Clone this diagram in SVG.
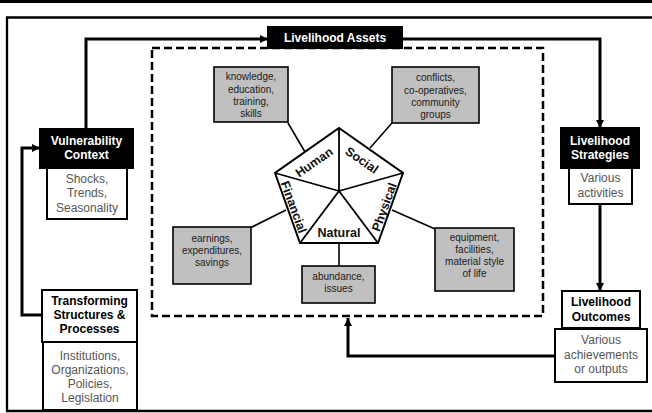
<svg xmlns="http://www.w3.org/2000/svg" width="652" height="413" viewBox="0 0 652 413">
<defs>
<marker id="ah" viewBox="0 0 10 10" refX="10" refY="5" markerUnits="userSpaceOnUse" markerWidth="8" markerHeight="8" orient="auto">
<path d="M0,0 L10,5 L0,10 z" fill="#000"/>
</marker>
<style>
text{font-family:"Liberation Sans",Arial,sans-serif;text-anchor:middle}
.hb{font-size:12px;font-weight:bold;fill:#fff}
.hd{font-size:12px;font-weight:bold;fill:#000}
.sub{font-size:12px;fill:#555}
.g{font-size:10px;fill:#1a1a1a}
.pl{font-size:12.5px;font-weight:bold;fill:#111}
.blk{fill:#000;stroke:#000;stroke-width:2}
.wht{fill:#fff;stroke:#000;stroke-width:2}
.gry{fill:#c0c0c0;stroke:#000;stroke-width:1.6}
.con{fill:none;stroke:#000;stroke-width:3}
.thin{fill:none;stroke:#000;stroke-width:1.6}
</style>
</defs>
<rect x="0" y="0" width="652" height="3" fill="#000"/>
<path d="M652,17.5 H7 V411 H652" fill="none" stroke="#000" stroke-width="2.3"/>
<rect id="assets-frame" x="152" y="48" width="391" height="268" fill="none" stroke="#000" stroke-width="2.5" stroke-dasharray="8 4"/>
<g id="connectors">
<path class="con" d="M86,129 V39 H268" marker-end="url(#ah)"/>
<path class="con" d="M402,39 H600 V128" marker-end="url(#ah)"/>
<path class="con" d="M600,204 V291" marker-end="url(#ah)"/>
<path class="con" d="M555,356 H348 V318" marker-end="url(#ah)"/>
<path class="con" d="M42,315 H22 V148 H40" marker-end="url(#ah)"/>
<line class="thin" x1="288" y1="123" x2="305" y2="152"/>
<line class="thin" x1="392" y1="123" x2="370" y2="148"/>
<line class="thin" x1="286" y1="210" x2="250" y2="228"/>
<line class="thin" x1="392" y1="210" x2="435" y2="229"/>
<line class="thin" x1="339" y1="243" x2="339" y2="266"/>
</g>
<g id="livelihood-assets">
<rect class="blk" x="268" y="27" width="134" height="21"/>
<text class="hb" x="335" y="42">Livelihood Assets</text>
</g>
<g id="pentagon">
<polygon points="339,128 403,173 378,243 300,243 275,173" fill="#fff" stroke="#000" stroke-width="2"/>
<path d="M339,191 L339,128 M339,191 L403,173 M339,191 L378,243 M339,191 L300,243 M339,191 L275,173" stroke="#000" stroke-width="1.8" fill="none"/>
<text class="pl" transform="translate(314,162) rotate(-35)" y="4.5">Human</text>
<text class="pl" transform="translate(362,160) rotate(35)" y="4.5">Social</text>
<text class="pl" transform="translate(294,207) rotate(70)" y="4.5">Financial</text>
<text class="pl" transform="translate(384,207) rotate(-70)" y="4.5">Physical</text>
<text class="pl" x="339" y="237">Natural</text>
</g>
<g id="human-box">
<rect class="gry" x="214" y="67" width="74" height="55"/>
<text class="g" x="251" y="80">knowledge,</text>
<text class="g" x="251" y="92.5">education,</text>
<text class="g" x="251" y="105">training,</text>
<text class="g" x="251" y="117">skills</text>
</g>
<g id="social-box">
<rect class="gry" x="392" y="67" width="87" height="56"/>
<text class="g" x="435.5" y="81">conflicts,</text>
<text class="g" x="435.5" y="93.5">co-operatives,</text>
<text class="g" x="435.5" y="106">community</text>
<text class="g" x="435.5" y="118">groups</text>
</g>
<g id="financial-box">
<rect class="gry" x="173" y="227" width="78" height="57"/>
<text class="g" x="212" y="242">earnings,</text>
<text class="g" x="212" y="254">expenditures,</text>
<text class="g" x="212" y="266">savings</text>
</g>
<g id="physical-box">
<rect class="gry" x="435" y="228" width="79" height="63"/>
<text class="g" x="474.5" y="241">equipment,</text>
<text class="g" x="474.5" y="253">facilities,</text>
<text class="g" x="474.5" y="265">material style</text>
<text class="g" x="474.5" y="277">of life</text>
</g>
<g id="natural-box">
<rect class="gry" x="302" y="266" width="73" height="37"/>
<text class="g" x="338.5" y="280">abundance,</text>
<text class="g" x="338.5" y="292">issues</text>
</g>
<g id="vulnerability-context">
<rect class="blk" x="40" y="129" width="93" height="39"/>
<text class="hb" x="86.5" y="145">Vulnerability</text>
<text class="hb" x="86.5" y="159">Context</text>
<rect class="wht" x="47" y="168" width="80" height="51"/>
<text class="sub" x="87" y="183">Shocks,</text>
<text class="sub" x="87" y="197">Trends,</text>
<text class="sub" x="87" y="212">Seasonality</text>
</g>
<g id="livelihood-strategies">
<rect class="blk" x="561" y="128" width="78" height="40"/>
<text class="hb" x="600" y="145">Livelihood</text>
<text class="hb" x="600" y="159">Strategies</text>
<rect class="wht" x="569" y="168" width="63" height="36"/>
<text class="sub" x="600.5" y="182">Various</text>
<text class="sub" x="600.5" y="197">activities</text>
</g>
<g id="livelihood-outcomes">
<rect class="wht" x="562" y="291" width="78" height="37"/>
<text class="hd" x="601" y="306">Livelihood</text>
<text class="hd" x="601" y="321">Outcomes</text>
<rect class="wht" x="555" y="329" width="92" height="53"/>
<text class="sub" x="601" y="344">Various</text>
<text class="sub" x="601" y="359">achievements</text>
<text class="sub" x="601" y="373">or outputs</text>
</g>
<g id="transforming-structures">
<rect class="wht" x="42" y="290" width="95" height="52"/>
<text class="hd" x="89.5" y="305">Transforming</text>
<text class="hd" x="89.5" y="319">Structures &amp;</text>
<text class="hd" x="89.5" y="333">Processes</text>
<rect class="wht" x="43" y="342" width="94" height="68"/>
<text class="sub" x="90" y="360">Institutions,</text>
<text class="sub" x="90" y="374">Organizations,</text>
<text class="sub" x="90" y="388">Policies,</text>
<text class="sub" x="90" y="402">Legislation</text>
</g>
</svg>
